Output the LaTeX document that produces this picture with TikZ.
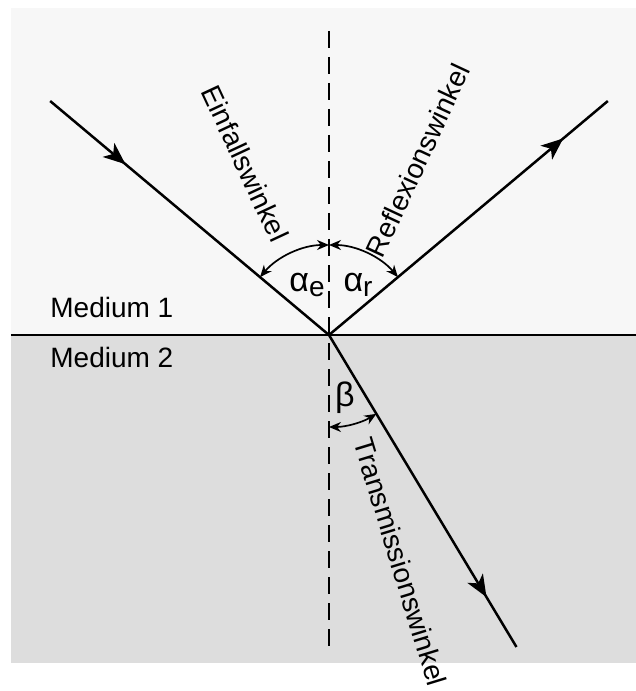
\documentclass[tikz,border=0pt]{standalone}
\usepackage{fontspec}
\setmainfont{Liberation Sans}
\usetikzlibrary{arrows.meta, decorations.markings, calc}
\definecolor{mediumA}{HTML}{F7F7F7}
\definecolor{mediumB}{HTML}{DDDDDD}
\tikzset{
  ray/.style        = {black, line width=1.25pt},
  interface/.style  = {black, line width=1.25pt},
  normalline/.style = {black, line width=0.8pt, dash pattern=on 8.5pt off 4.5pt},
  anglearc/.style   = {black, line width=0.85pt,
                       {Stealth[length=6pt, width=5pt]}-{Stealth[length=6pt, width=5pt]}},
  midarrow/.style   = {decoration={markings,
                        mark=at position #1 with {\arrow{Stealth[length=11pt, width=9pt, inset=3pt]}}},
                       postaction={decorate}},
  lbl/.style        = {font=\fontsize{14}{16}\selectfont, inner sep=0pt},
  anglbl/.style     = {font=\fontsize{17}{19}\selectfont, inner sep=0pt},
}
\newcommand{\angsub}[1]{\raisebox{-0.3ex}{\fontsize{14}{14}\selectfont #1}}

\begin{document}
\begin{tikzpicture}[x=0.5pt, y=0.5pt]
  \useasboundingbox (-329,335) rectangle (307,-356);

  % the two media
  \fill[mediumA] (-318,327) rectangle (307,0);
  \fill[mediumB] (-318,0) rectangle (307,-328);

  \coordinate (O) at (0,0);
  \coordinate (Nt) at (0,304);
  \coordinate (Nb) at (0,-314);
  \coordinate (Ml) at (-318,0);
  \coordinate (Mr) at (307,0);
  \coordinate (E) at (140:364);
  \coordinate (R) at (40:364);
  \coordinate (T) at (-59:364);

  \draw[normalline] (Nt) -- (Nb);
  \draw[interface] (Ml) -- (Mr);

  % incident, reflected and transmitted rays
  \draw[ray, midarrow=0.27] (E) -- (O);
  \draw[ray, midarrow=0.84] (O) -- (R);
  \draw[ray, midarrow=0.84] (O) -- (T);

  % angles
  \draw[anglearc] ($(O)+(90:90)$) arc[start angle=90, end angle=140, radius=90];
  \draw[anglearc] ($(O)+(40:90)$) arc[start angle=40, end angle=90, radius=90];
  \draw[anglearc] ($(O)+(-90:92)$) arc[start angle=-90, end angle=-59, radius=92];

  \node[anglbl] (ae) at (-22,50) {α\angsub{e}};
  \node[anglbl] (ar) at (29,50) {α\angsub{r}};
  \node[anglbl] (be) at (16,-63) {β};

  \node[lbl, rotate=-65] (ew) at (116:191) {Einfallswinkel};
  \node[lbl, rotate=65] (rw) at (63:196) {Reflexionswinkel};
  \node[lbl, rotate=-73] (tw) at (-72.5:238) {Transmissionswinkel};

  \node[lbl, anchor=west] (m1) at (-279,28) {Medium 1};
  \node[lbl, anchor=west] (m2) at (-279,-22) {Medium 2};
\end{tikzpicture}
\end{document}
